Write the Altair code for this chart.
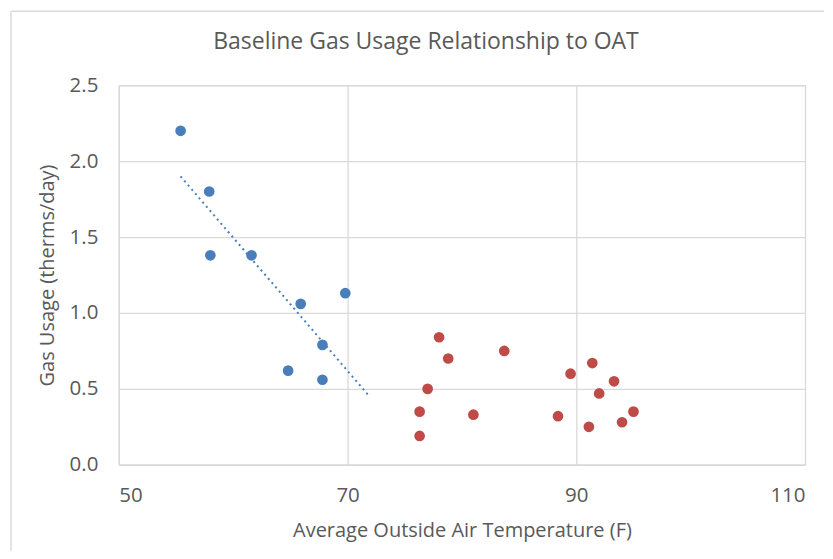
import altair as alt
import pandas as pd

# ---- data ----
baseline_temp = [55.4, 57.9, 58.0, 61.6, 65.9, 69.8, 67.8, 64.8, 67.8]
baseline_gas = [2.20, 1.80, 1.38, 1.38, 1.06, 1.13, 0.79, 0.62, 0.56]

other_temp = [78.0, 78.8, 83.7, 77.0, 76.3, 76.3, 81.0, 88.4, 89.5, 91.4, 93.3, 92.0, 91.1, 94.0, 95.0]
other_gas = [0.84, 0.70, 0.75, 0.50, 0.35, 0.19, 0.33, 0.32, 0.60, 0.67, 0.55, 0.47, 0.25, 0.28, 0.35]

groups = ["Baseline", "Other"]
colors = ["#4a7ebb", "#be4b48"]

x_ticks = [50, 70, 90, 110]
y_ticks = [0.0, 0.5, 1.0, 1.5, 2.0, 2.5]
trend_forward = 2.0  # trendline forward forecast (F)

title_text = "Baseline Gas Usage Relationship to OAT"
x_title = "Average Outside Air Temperature (F)"
y_title = "Gas Usage (therms/day)"

# ---- table ----
df = pd.DataFrame({
    "temp": baseline_temp + other_temp,
    "gas": baseline_gas + other_gas,
    "group": [groups[0]] * len(baseline_temp) + [groups[1]] * len(other_temp),
})

FONT = "Open Sans"
TXT = "#595959"
GRID = "#d9d9d9"

x_enc = alt.X(
    "temp:Q",
    scale=alt.Scale(domain=[x_ticks[0], x_ticks[-1]], nice=False, zero=False),
    axis=alt.Axis(
        values=x_ticks, title=x_title, grid=True, gridColor=GRID, gridWidth=1.3,
        ticks=False, tickSize=0, domainColor=GRID, domainWidth=1.3,
        labelFont=FONT, labelFontSize=20.5, labelColor=TXT, labelPadding=21,
        titleFont=FONT, titleFontSize=20, titleColor=TXT, titleFontWeight="normal",
        titlePadding=14,
    ),
)
y_enc = alt.Y(
    "gas:Q",
    scale=alt.Scale(domain=[y_ticks[0], y_ticks[-1]], nice=False),
    axis=alt.Axis(
        values=y_ticks, format=".1f", title=y_title, grid=True, gridColor=GRID, gridWidth=1.3,
        ticks=False, tickSize=0, domainColor=GRID, domainWidth=1.3,
        labelFont=FONT, labelFontSize=20.5, labelColor=TXT, labelPadding=21,
        titleFont=FONT, titleFontSize=20, titleColor=TXT, titleFontWeight="normal",
        titlePadding=12,
    ),
)

points = alt.Chart(df).mark_circle(size=115, opacity=1).encode(
    x=x_enc,
    y=y_enc,
    color=alt.Color("group:N", scale=alt.Scale(domain=groups, range=colors), legend=None),
)

trend = (
    alt.Chart(df)
    .transform_filter(alt.datum.group == groups[0])
    .transform_regression(
        "temp", "gas",
        extent=[min(baseline_temp), max(baseline_temp) + trend_forward],
    )
    .mark_line(color=colors[0], strokeWidth=2, strokeDash=[2, 3.6])
    .encode(x="temp:Q", y="gas:Q")
)

frame_df = pd.DataFrame({"k": [0]})
frame_top = alt.Chart(frame_df).mark_rule(color=GRID, strokeWidth=1.5).encode(
    x=alt.value(-108), x2=alt.value(706), y=alt.value(-74)
)
frame_left = alt.Chart(frame_df).mark_rule(color=GRID, strokeWidth=1.5).encode(
    x=alt.value(-108), y=alt.value(-74), y2=alt.value(466)
)

chart = (
    alt.layer(frame_top, frame_left, trend, points)
    .properties(
        width=687,
        height=380,
        padding={"left": 2, "top": 2, "right": 0, "bottom": 0},
        title=alt.TitleParams(
            text=title_text, font=FONT, fontSize=23, fontWeight="normal",
            color=TXT, anchor="middle", frame="group", dx=-36, offset=-43,
        ),
    )
    .configure_view(strokeWidth=0)
    .configure(background="white")
)

chart.save("out.html", embed_options={"renderer": "svg", "actions": False})
